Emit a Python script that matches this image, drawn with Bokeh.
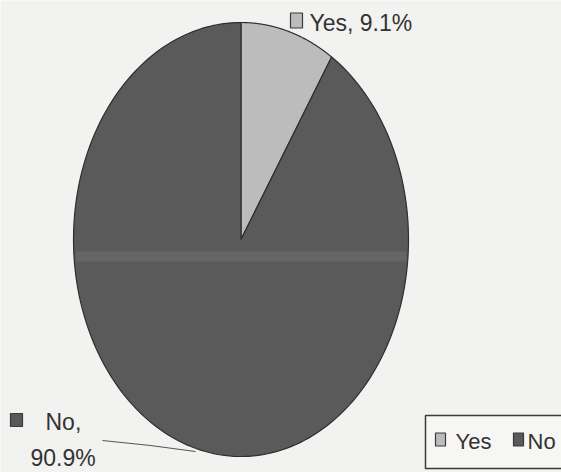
import numpy as np
from bokeh.plotting import figure
from bokeh.models import Range1d, ColumnDataSource
from bokeh.core.properties import value
from bokeh.embed import file_html
from bokeh.resources import INLINE

# Survey answer shares (percent)
categories = ["Yes", "No"]
shares = [9.1, 90.9]
fills = ["#bcbcbc", "#5a5a5a"]

W, H = 561, 472
FONT = "Liberation Sans"

p = figure(width=W, height=H, output_backend="svg", toolbar_location=None,
           x_range=Range1d(0, W), y_range=Range1d(H, 0), min_border=0,
           background_fill_color="#f2f2f0", border_fill_color="#f2f2f0")
p.axis.visible = False
p.grid.visible = False
p.outline_line_color = None

# pie geometry (drawn as an ellipse: wider than tall)
cx, cy, rx, ry = 240.5, 239.0, 167.5, 217.0

fractions = np.array(shares) / np.sum(shares)
ends = np.cumsum(fractions) * 2 * np.pi
starts = np.concatenate([[0.0], ends[:-1]])

xs, ys = [], []
for a0, a1 in zip(starts, ends):
    t = np.linspace(a0, a1, 200)
    xs.append(np.concatenate([[cx], cx + rx * np.sin(t), [cx]]))
    ys.append(np.concatenate([[cy], cy - ry * np.cos(t), [cy]]))

src = ColumnDataSource(dict(xs=xs, ys=ys, fill=fills, cat=categories))
p.patches("xs", "ys", source=src, fill_color="fill", line_color="#2e2e2e",
          line_width=1.2)

# faint scan streak across the middle of the pie
p.rect(x=cx, y=256, width=2 * rx - 4, height=10, fill_color="#ffffff",
       fill_alpha=0.07, line_color=None)

TXT = dict(text_font=value(FONT), text_color="#333333", text_baseline="middle")

# data labels
labels = [f"{c}, {s}%" for c, s in zip(categories, shares)]
p.rect(x=[296], y=[20], width=12, height=15, fill_color=fills[0],
       line_color="#3a3a3a", line_width=1.2)
p.text(x=[309], y=[22], text=[labels[0]], text_font_size="23px", **TXT)

p.rect(x=[16], y=[419.5], width=12, height=13, fill_color=fills[1],
       line_color="#3a3a3a", line_width=1.2)
p.text(x=[45], y=[421], text=[f"{categories[1]},"], text_font_size="23px", **TXT)
p.text(x=[30], y=[457], text=[f"{shares[1]}%"], text_font_size="23px", **TXT)

# leader line for the "No" label
p.line(x=[102, 150, 195], y=[440, 445, 451], line_color="#555555", line_width=1.2)

# legend
p.quad(left=425, right=575, top=415, bottom=468, fill_color="#f6f6f4",
       line_color="#3a3a3a", line_width=1.5)
p.rect(x=[440, 518], y=[439, 439], width=10, height=13, fill_color=fills,
       line_color="#3a3a3a", line_width=1.2)
p.text(x=[455, 527], y=[441, 441], text=categories, text_font_size="22px", **TXT)

open("out.html", "w").write(file_html(p, INLINE))
